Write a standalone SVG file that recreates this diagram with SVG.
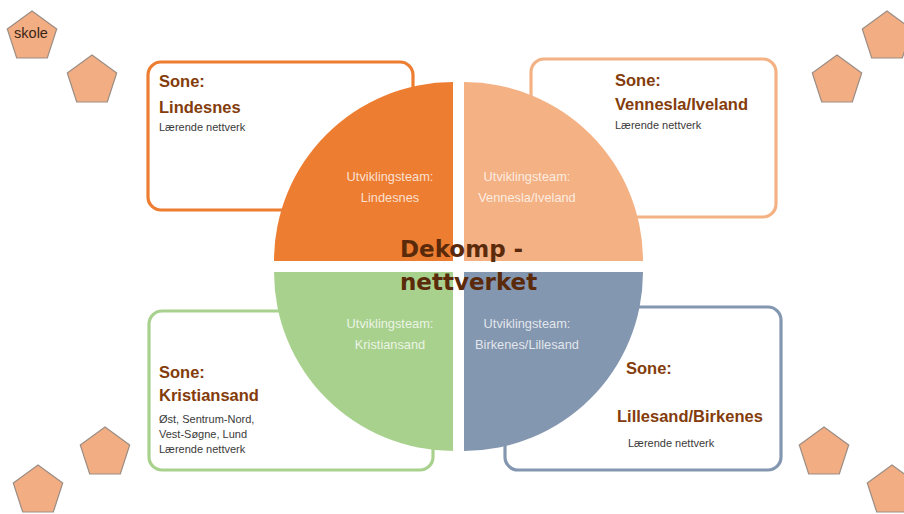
<svg xmlns="http://www.w3.org/2000/svg" width="904" height="514" viewBox="0 0 904 514">
<defs>
<style>
.pent{fill:#F2AD83;stroke:#9b8d84;stroke-width:1.2}
.box{fill:#fff;stroke-width:3.2}
.sone{font-family:"Liberation Sans",Arial,sans-serif;font-weight:bold;font-size:16.5px;fill:#843C0C}
.sub{font-family:"Liberation Sans",Arial,sans-serif;font-size:11px;fill:#3a3a3a}
.team{font-family:"Liberation Sans",Arial,sans-serif;font-size:12.8px;fill:#fff;fill-opacity:.78;text-anchor:middle}
.title{font-family:"DejaVu Sans",sans-serif;font-weight:bold;font-size:23px;fill:#5a2a0b}
</style>
<polygon id="pg" points="0,-26 24.7,-8 15.3,21 -15.3,21 -24.7,-8"/>
</defs>
<rect width="904" height="514" fill="#fff"/>

<g id="pentagons">
<g id="p-skole"><use href="#pg" class="pent" transform="translate(32,37)"/><text x="31" y="38" text-anchor="middle" font-family="Liberation Sans,Arial,sans-serif" font-size="14.5" fill="#3a2616">skole</text></g>
<use id="p2" href="#pg" class="pent" transform="translate(92,81)"/>
<use id="p3" href="#pg" class="pent" transform="translate(887,37)"/>
<use id="p4" href="#pg" class="pent" transform="translate(837,81)"/>
<use id="p5" href="#pg" class="pent" transform="translate(105,453)"/>
<use id="p6" href="#pg" class="pent" transform="translate(38,491)"/>
<use id="p7" href="#pg" class="pent" transform="translate(824,453)"/>
<use id="p8" href="#pg" class="pent" transform="translate(892,491)"/>
</g>

<g id="connectors"></g>

<g id="box-lindesnes">
<rect class="box" x="148" y="62" width="265" height="148" rx="13" stroke="#ED7D31"/>
<text class="sone" x="159" y="87">Sone:</text>
<text class="sone" x="159" y="113">Lindesnes</text>
<text class="sub" x="159" y="131">Lærende nettverk</text>
</g>
<g id="box-vennesla">
<rect class="box" x="531" y="59" width="245" height="158" rx="13" stroke="#F4B183"/>
<text class="sone" x="615" y="86">Sone:</text>
<text class="sone" x="615" y="110">Vennesla/Iveland</text>
<text class="sub" x="615" y="129">Lærende nettverk</text>
</g>
<g id="box-kristiansand">
<rect class="box" x="149" y="311" width="284" height="159" rx="13" stroke="#A9D18E"/>
<text class="sone" x="159" y="378">Sone:</text>
<text class="sone" x="159" y="401">Kristiansand</text>
<text class="sub" x="159" y="423">Øst, Sentrum-Nord,</text>
<text class="sub" x="159" y="438">Vest-Søgne, Lund</text>
<text class="sub" x="159" y="453">Lærende nettverk</text>
</g>
<g id="box-lillesand">
<rect class="box" x="505" y="307" width="276" height="163" rx="13" stroke="#8497B0"/>
<text class="sone" x="626" y="374">Sone:</text>
<text class="sone" x="617" y="422">Lillesand/Birkenes</text>
<text class="sub" x="628" y="447">Lærende nettverk</text>
</g>

<g id="q-lindesnes">
<path d="M453,261 L274,261 A179,179 0 0 1 453,82 Z" fill="#ED7D31"/>
<text class="team" x="390" y="181">Utviklingsteam:</text>
<text class="team" x="390" y="202">Lindesnes</text>
</g>
<g id="q-vennesla">
<path d="M464,261 L464,82 A179,179 0 0 1 643,261 Z" fill="#F4B183"/>
<text class="team" x="527" y="181">Utviklingsteam:</text>
<text class="team" x="527" y="202">Vennesla/Iveland</text>
</g>
<g id="q-kristiansand">
<path d="M453,272 L453,451 A179,179 0 0 1 274,272 Z" fill="#A9D18E"/>
<text class="team" x="390" y="328">Utviklingsteam:</text>
<text class="team" x="390" y="349">Kristiansand</text>
</g>
<g id="q-birkenes">
<path d="M464,272 L643,272 A179,179 0 0 1 464,451 Z" fill="#8497B0"/>
<text class="team" x="527" y="328">Utviklingsteam:</text>
<text class="team" x="527" y="349">Birkenes/Lillesand</text>
</g>

<g id="title">
<text class="title" x="400" y="257">Dekomp -</text>
<text class="title" x="400" y="290">nettverket</text>
</g>
</svg>
